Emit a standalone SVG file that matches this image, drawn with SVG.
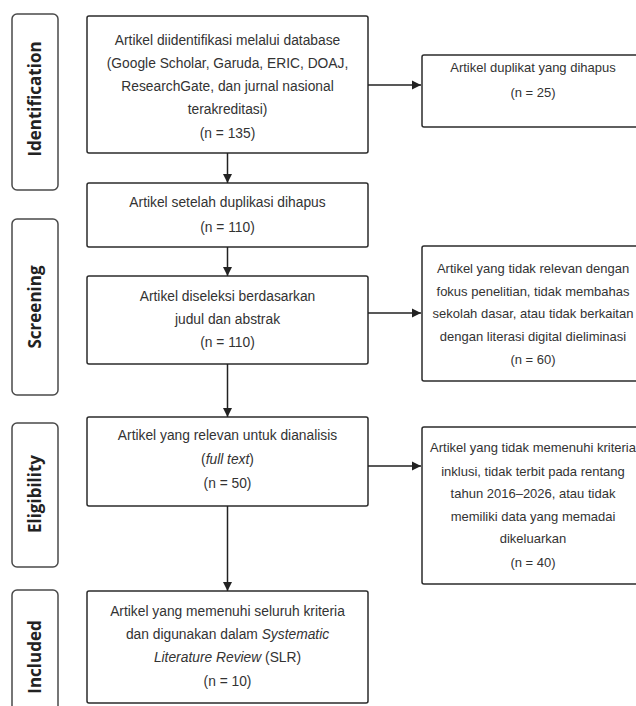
<svg xmlns="http://www.w3.org/2000/svg" width="636" height="706" viewBox="0 0 636 706">
<style>
.box{fill:#fff;stroke:#2b2b2b;stroke-width:1.5}
.side{fill:#fff;stroke:#4a4a4a;stroke-width:1.5}
.t{font-family:"Liberation Sans",Arial,sans-serif;font-size:13.8px;fill:#333;text-anchor:middle}
.r{font-size:13px}
.s{font-family:"Open Sans","DejaVu Sans",sans-serif;font-size:17px;font-weight:bold;fill:#222;text-anchor:middle}
.c{stroke:#222;stroke-width:1.5;fill:none}
</style>
<defs>
<marker id="ah" markerWidth="10" markerHeight="10" refX="9" refY="5" orient="auto" markerUnits="userSpaceOnUse">
<path d="M0,0.5 L9,5 L0,9.5 Z" fill="#222"/>
</marker>
</defs>
<rect width="636" height="706" fill="#fff"/>

<g id="side-identification">
<rect class="side" x="12" y="14" width="46" height="176" rx="5"/>
<text class="s" transform="translate(41,99) rotate(-90)">Identification</text>
</g>
<g id="side-screening">
<rect class="side" x="12" y="219" width="46" height="176" rx="5"/>
<text class="s" transform="translate(41,307) rotate(-90)">Screening</text>
</g>
<g id="side-eligibility">
<rect class="side" x="12" y="423" width="46" height="144" rx="5"/>
<text class="s" transform="translate(41,494) rotate(-90)">Eligibility</text>
</g>
<g id="side-included">
<rect class="side" x="12" y="590" width="46" height="134" rx="5"/>
<text class="s" transform="translate(41,657) rotate(-90)">Included</text>
</g>

<g id="identified">
<rect class="box" x="87" y="16" width="281" height="137" rx="2"/>
<text class="t" x="227.5" y="45">Artikel diidentifikasi melalui database</text>
<text class="t" x="227.5" y="68">(Google Scholar, Garuda, ERIC, DOAJ,</text>
<text class="t" x="227.5" y="91">ResearchGate, dan jurnal nasional</text>
<text class="t" x="227.5" y="114">terakreditasi)</text>
<text class="t" x="227.5" y="138">(n = 135)</text>
</g>
<g id="duplicates">
<rect class="box" x="422" y="55" width="222" height="72" rx="2"/>
<text class="t r" x="533" y="72">Artikel duplikat yang dihapus</text>
<text class="t r" x="533" y="97">(n = 25)</text>
</g>
<g id="after-dedup">
<rect class="box" x="87" y="183" width="281" height="64" rx="2"/>
<text class="t" x="227.5" y="207">Artikel setelah duplikasi dihapus</text>
<text class="t" x="227.5" y="232">(n = 110)</text>
</g>
<g id="screened">
<rect class="box" x="87" y="276" width="281" height="88" rx="2"/>
<text class="t" x="227.5" y="301">Artikel diseleksi berdasarkan</text>
<text class="t" x="227.5" y="324">judul dan abstrak</text>
<text class="t" x="227.5" y="347">(n = 110)</text>
</g>
<g id="excluded-screening">
<rect class="box" x="422" y="246" width="222" height="135" rx="2"/>
<text class="t r" x="533" y="273">Artikel yang tidak relevan dengan</text>
<text class="t r" x="533" y="296">fokus penelitian, tidak membahas</text>
<text class="t r" x="533" y="318">sekolah dasar, atau tidak berkaitan</text>
<text class="t r" x="533" y="341">dengan literasi digital dieliminasi</text>
<text class="t r" x="533" y="364">(n = 60)</text>
</g>
<g id="eligible">
<rect class="box" x="87" y="417" width="281" height="89" rx="2"/>
<text class="t" x="227.5" y="440">Artikel yang relevan untuk dianalisis</text>
<text class="t" x="227.5" y="464">(<tspan font-style="italic">full text</tspan>)</text>
<text class="t" x="227.5" y="488">(n = 50)</text>
</g>
<g id="excluded-eligibility">
<rect class="box" x="422" y="427" width="222" height="157" rx="2"/>
<text class="t r" x="533" y="452">Artikel yang tidak memenuhi kriteria</text>
<text class="t r" x="533" y="476">inklusi, tidak terbit pada rentang</text>
<text class="t r" x="533" y="498">tahun 2016–2026, atau tidak</text>
<text class="t r" x="533" y="521">memiliki data yang memadai</text>
<text class="t r" x="533" y="543">dikeluarkan</text>
<text class="t r" x="533" y="567">(n = 40)</text>
</g>
<g id="included">
<rect class="box" x="87" y="591" width="281" height="112" rx="2"/>
<text class="t" x="227.5" y="616">Artikel yang memenuhi seluruh kriteria</text>
<text class="t" x="227.5" y="639">dan digunakan dalam <tspan font-style="italic">Systematic</tspan></text>
<text class="t" x="227.5" y="662"><tspan font-style="italic">Literature Review</tspan> (SLR)</text>
<text class="t" x="227.5" y="686">(n = 10)</text>
</g>

<g id="connectors">
<line class="c" x1="227.5" y1="153" x2="227.5" y2="183" marker-end="url(#ah)"/>
<line class="c" x1="227.5" y1="247" x2="227.5" y2="276" marker-end="url(#ah)"/>
<line class="c" x1="227.5" y1="364" x2="227.5" y2="417" marker-end="url(#ah)"/>
<line class="c" x1="227.5" y1="506" x2="227.5" y2="591" marker-end="url(#ah)"/>
<line class="c" x1="368" y1="85" x2="421" y2="85" marker-end="url(#ah)"/>
<line class="c" x1="368" y1="313" x2="421" y2="313" marker-end="url(#ah)"/>
<line class="c" x1="368" y1="466" x2="421" y2="466" marker-end="url(#ah)"/>
</g>
</svg>
